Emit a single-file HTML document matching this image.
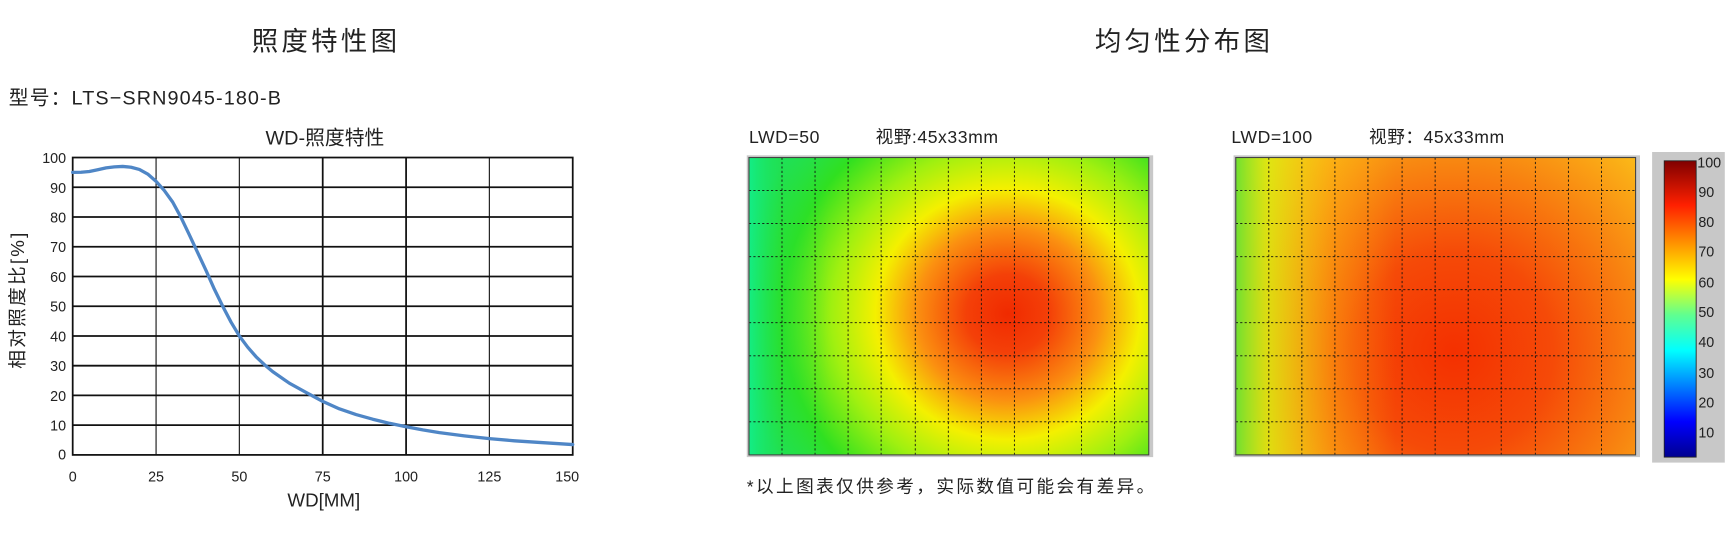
<!DOCTYPE html>
<html><head><meta charset="utf-8"><style>
html,body{margin:0;padding:0;background:#fff;}
svg{display:block;}
text{font-family:"Liberation Sans","Noto Sans CJK SC",sans-serif;fill:#222;}
</style></head><body>
<svg width="1727" height="535" viewBox="0 0 1568 485.7" xmlns="http://www.w3.org/2000/svg">
<defs>
<radialGradient id="h1" gradientUnits="userSpaceOnUse" cx="915" cy="285" r="250" gradientTransform="translate(915 285) scale(1 0.95) translate(-915 -285)">
<stop offset="0" stop-color="#f02a00"/>
<stop offset="0.15" stop-color="#f44008"/>
<stop offset="0.33" stop-color="#fb9010"/>
<stop offset="0.48" stop-color="#f4f000"/>
<stop offset="0.64" stop-color="#a0f010"/>
<stop offset="0.82" stop-color="#30e020"/>
<stop offset="1" stop-color="#20e060"/>
</radialGradient>
<linearGradient id="h1l" x1="0" x2="1" y1="0" y2="0">
<stop offset="0" stop-color="#10f090" stop-opacity="0.8"/>
<stop offset="0.08" stop-color="#20e040" stop-opacity="0.4"/>
<stop offset="0.2" stop-color="#20e040" stop-opacity="0"/>
</linearGradient>
<radialGradient id="h2" gradientUnits="userSpaceOnUse" cx="1320" cy="320" r="300">
<stop offset="0" stop-color="#f43000"/>
<stop offset="0.3" stop-color="#f54a08"/>
<stop offset="0.55" stop-color="#f88010"/>
<stop offset="0.8" stop-color="#fbb818"/>
<stop offset="1" stop-color="#f8e010"/>
</radialGradient>
<linearGradient id="h2l" x1="0" x2="1" y1="0" y2="0">
<stop offset="0" stop-color="#70e030" stop-opacity="1"/>
<stop offset="0.08" stop-color="#d8f010" stop-opacity="0.8"/>
<stop offset="0.25" stop-color="#ffd010" stop-opacity="0.3"/>
<stop offset="0.4" stop-color="#ffd010" stop-opacity="0"/>
</linearGradient>
<linearGradient id="jet" x1="0" x2="0" y1="1" y2="0">
<stop offset="0" stop-color="#000090"/>
<stop offset="0.12" stop-color="#0000ff"/>
<stop offset="0.36" stop-color="#00ffff"/>
<stop offset="0.48" stop-color="#60ff90"/>
<stop offset="0.6" stop-color="#ffff00"/>
<stop offset="0.85" stop-color="#ff2000"/>
<stop offset="1" stop-color="#800000"/>
</linearGradient>
</defs>

<text x="296" y="46" font-size="24" text-anchor="middle" letter-spacing="3">照度特性图</text>
<text x="8" y="95" font-size="18" letter-spacing="1">型号：LTS−SRN9045-180-B</text>
<text x="295" y="131" font-size="18" text-anchor="middle">WD-照度特性</text>

<g stroke="#111" fill="none">
<g stroke-width="1">
<line x1="141.7" y1="143" x2="141.7" y2="413"/><line x1="217.3" y1="143" x2="217.3" y2="413"/>
<line x1="444.3" y1="143" x2="444.3" y2="413"/>
</g>
<g stroke-width="1.6">
<line x1="66" y1="170" x2="520" y2="170"/><line x1="66" y1="197" x2="520" y2="197"/>
<line x1="66" y1="224" x2="520" y2="224"/><line x1="66" y1="251" x2="520" y2="251"/>
<line x1="66" y1="278" x2="520" y2="278"/><line x1="66" y1="305" x2="520" y2="305"/>
<line x1="66" y1="332" x2="520" y2="332"/><line x1="66" y1="359" x2="520" y2="359"/>
<line x1="66" y1="386" x2="520" y2="386"/>
<line x1="293" y1="143" x2="293" y2="413"/><line x1="368.7" y1="143" x2="368.7" y2="413"/>
<rect x="66" y="143" width="454" height="270"/>
</g>
</g>
<polyline fill="none" stroke="#4f86c6" stroke-width="3" stroke-linejoin="round" stroke-linecap="round"
points="66,156.5 73.6,156.4 81.1,155.7 88.7,154.1 96.3,152.4 103.8,151.5 111.4,151.1 119,151.8 126.5,153.8 134.1,158 141.7,164.6 149.2,173 156.8,183.5 164.4,197.5 171.9,213.2 179.5,229.4 187.1,245.6 194.6,262.5 202.2,278 209.8,292.5 217.3,305 224.9,315.2 232.5,323.9 240,331 247.6,337.4 262.7,347.9 277.9,356.3 293,364.4 308.1,371.2 323.3,376.4 338.4,380.6 353.5,384.3 368.7,387.4 383.8,390.3 398.9,392.8 421.6,395.7 444.3,398.2 467,400.2 489.7,401.7 520,403.6"/>
<g font-size="13" text-anchor="end">
<text x="60" y="148">100</text><text x="60" y="175">90</text><text x="60" y="202">80</text>
<text x="60" y="229">70</text><text x="60" y="256">60</text><text x="60" y="283">50</text>
<text x="60" y="310">40</text><text x="60" y="337">30</text><text x="60" y="364">20</text>
<text x="60" y="391">10</text><text x="60" y="417">0</text>
</g>
<g font-size="13" text-anchor="middle">
<text x="66" y="437">0</text><text x="141.7" y="437">25</text><text x="217.3" y="437">50</text>
<text x="293" y="437">75</text><text x="368.7" y="437">100</text><text x="444.3" y="437">125</text>
<text x="515" y="437">150</text>
</g>
<text x="294" y="460" font-size="17" text-anchor="middle">WD[MM]</text>
<text transform="translate(22 272) rotate(-90)" font-size="17" text-anchor="middle" letter-spacing="2">相对照度比[%]</text>

<text x="1075" y="46" font-size="24" text-anchor="middle" letter-spacing="3">均匀性分布图</text>
<text x="680" y="130" font-size="16" letter-spacing="0.5">LWD=50</text>
<text x="795" y="130" font-size="16" letter-spacing="0.5">视野:45x33mm</text>
<text x="1118" y="130" font-size="16" letter-spacing="0.5">LWD=100</text>
<text x="1243" y="130" font-size="16" letter-spacing="0.5">视野：45x33mm</text>

<rect x="678" y="141" width="369" height="274" fill="#c8c8c8"/>
<rect x="680" y="143" width="363" height="270" fill="url(#h1)"/>
<rect x="680" y="143" width="363" height="270" fill="url(#h1l)"/>
<rect x="1120" y="141" width="369" height="274" fill="#c8c8c8"/>
<rect x="1122" y="143" width="363" height="270" fill="url(#h2)"/>
<rect x="1122" y="143" width="363" height="270" fill="url(#h2l)"/>
<g stroke="#111" stroke-width="0.8" stroke-dasharray="2,2" fill="none">
<path d="M710,143V413M740,143V413M770,143V413M800,143V413M831,143V413M861,143V413M891,143V413M921,143V413M952,143V413M982,143V413M1012,143V413
M680,173H1043M680,203H1043M680,233H1043M680,263H1043M680,293H1043M680,323H1043M680,353H1043M680,383H1043"/>
<path d="M1152,143V413M1182,143V413M1212,143V413M1242,143V413M1273,143V413M1303,143V413M1333,143V413M1363,143V413M1394,143V413M1424,143V413M1454,143V413
M1122,173H1485M1122,203H1485M1122,233H1485M1122,263H1485M1122,293H1485M1122,323H1485M1122,353H1485M1122,383H1485"/>
</g>
<g stroke="#444" stroke-width="1" fill="none">
<rect x="680" y="143" width="363" height="270"/>
<rect x="1122" y="143" width="363" height="270"/>
</g>

<rect x="1500" y="138" width="66" height="282" fill="#c8c8c8"/>
<rect x="1511" y="146" width="29" height="269" fill="url(#jet)" stroke="#222" stroke-width="0.8"/>
<g font-size="13">
<text x="1541" y="152">100</text><text x="1542" y="179">90</text><text x="1542" y="206">80</text>
<text x="1542" y="233">70</text><text x="1542" y="261">60</text><text x="1542" y="288">50</text>
<text x="1542" y="315">40</text><text x="1542" y="343">30</text><text x="1542" y="370">20</text>
<text x="1542" y="397">10</text>
</g>
<text x="678" y="447" font-size="16" letter-spacing="2.2">*以上图表仅供参考，实际数值可能会有差异。</text>
</svg>
</body></html>
